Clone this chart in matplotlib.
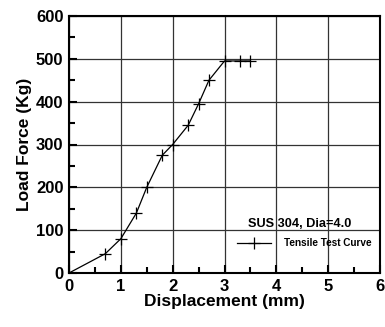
import matplotlib
matplotlib.use("Agg")
import matplotlib.pyplot as plt
from matplotlib.ticker import MultipleLocator
from matplotlib.lines import Line2D

plt.rcParams["font.family"] = ["Liberation Sans", "DejaVu Sans"]
plt.rcParams["font.weight"] = "bold"

displacement = [0.0, 0.7, 1.0, 1.3, 1.5, 1.8, 2.0, 2.3, 2.5, 2.7, 3.0, 3.3, 3.5]
load = [0, 45, 80, 140, 200, 275, 300, 345, 395, 450, 495, 495, 495]

fig = plt.figure(figsize=(3.85, 3.27), dpi=100)
ax = fig.add_axes([69 / 385, 1 - 273 / 327, 311 / 385, 257 / 327])

ax.plot(displacement, load, color="black", lw=0.9)
ax.plot(displacement[1:], load[1:], ls="none", marker="+", ms=8.5, mew=0.9, color="black")

ax.set_xlim(0, 6)
ax.set_ylim(0, 600)
ax.xaxis.set_major_locator(MultipleLocator(1))
ax.xaxis.set_minor_locator(MultipleLocator(0.5))
ax.yaxis.set_major_locator(MultipleLocator(100))
ax.yaxis.set_minor_locator(MultipleLocator(50))
ax.tick_params(which="both", direction="in", width=1.5, labelsize=12, pad=4)
ax.tick_params(which="major", length=6)
ax.tick_params(which="minor", length=4)
ax.grid(True, which="major", color="#333333", lw=0.9)
for s in ax.spines.values():
    s.set_linewidth(1.5)
for lbl in ax.get_xticklabels() + ax.get_yticklabels():
    lbl.set_fontweight("bold")

ax.set_xlabel("Displacement (mm)", fontsize=12.5, fontweight="bold", labelpad=0)
ax.set_ylabel("Load Force (Kg)", fontsize=12.5, fontweight="bold", labelpad=3)

ax.text(4.45, 114, "SUS 304, Dia=4.0", ha="center", va="center", fontsize=9.2, fontweight="bold")
handle = Line2D([], [], color="black", lw=0.9, marker="+", ms=8.5, mew=0.9)
ax.legend([handle], ["Tensile Test Curve"], loc="center left", bbox_to_anchor=(0.51, 0.115),
          frameon=False, prop={"size": 7.2, "weight": "bold"}, handlelength=3.4, handletextpad=1.3)

fig.savefig("out.png", dpi=100)
